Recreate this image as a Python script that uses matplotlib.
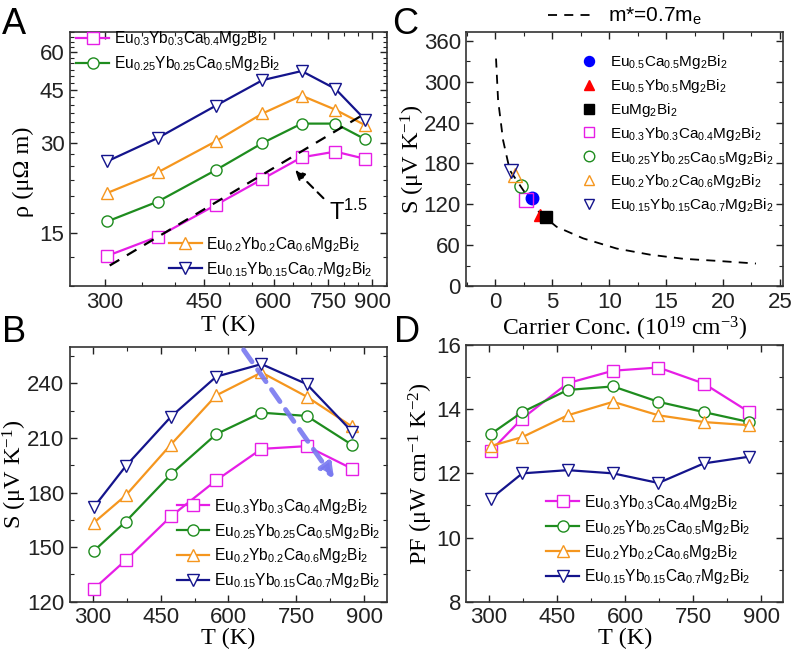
import numpy as np
import matplotlib.pyplot as plt
from matplotlib.ticker import FixedLocator, NullFormatter, MultipleLocator, FixedFormatter

plt.rcParams['font.family'] = 'Liberation Sans'
plt.rcParams['mathtext.default'] = 'regular'
plt.rcParams['xtick.direction'] = 'in'
plt.rcParams['ytick.direction'] = 'in'
plt.rcParams['xtick.top'] = True
plt.rcParams['ytick.right'] = True

# ---- data ----
T = [303, 373, 473, 573, 673, 773, 873]

names = [r'Eu$_{0.3}$Yb$_{0.3}$Ca$_{0.4}$Mg$_2$Bi$_2$',
         r'Eu$_{0.25}$Yb$_{0.25}$Ca$_{0.5}$Mg$_2$Bi$_2$',
         r'Eu$_{0.2}$Yb$_{0.2}$Ca$_{0.6}$Mg$_2$Bi$_2$',
         r'Eu$_{0.15}$Yb$_{0.15}$Ca$_{0.7}$Mg$_2$Bi$_2$']
colors = ['#e61ee6', '#1e8c1e', '#f5961e', '#14148c']
markers = ['s', 'o', '^', 'v']

# A: resistivity (uOhm m)
rho = [[12.6, 14.6, 18.6, 22.7, 26.8, 28.0, 26.5],
       [16.4, 19.1, 24.3, 29.9, 34.7, 34.7, 30.8],
       [20.4, 23.9, 30.3, 37.5, 43.0, 38.6, 34.3],
       [26.0, 31.1, 39.8, 48.4, 51.9, 45.3, 35.8]]
T_fit = [306, 880]
rho_fit = [11.7, 37.8]

# B: Seebeck (uV/K)
seebeck = [[127.1, 142.8, 166.9, 186.7, 204.0, 205.5, 193.1],
           [148.0, 164.0, 190.0, 212.1, 223.9, 222.1, 206.2],
           [163.5, 178.4, 206.4, 233.4, 246.0, 232.7, 216.3],
           [172.1, 194.5, 221.7, 243.7, 250.6, 239.6, 213.5]]

# C: Pisarenko plot
c_names = [r'Eu$_{0.5}$Ca$_{0.5}$Mg$_2$Bi$_2$',
           r'Eu$_{0.5}$Yb$_{0.5}$Mg$_2$Bi$_2$',
           r'EuMg$_2$Bi$_2$'] + names
c_colors = ['#0000ff', '#ff0000', '#000000'] + colors
c_markers = ['o', '^', 's'] + markers
c_filled = [True, True, True, False, False, False, False]
c_n = [3.22, 3.9, 4.4, 2.72, 2.28, 1.70, 1.35]
c_S = [128.8, 105, 101, 127, 147, 163, 169]
curve_n = [0.05, 0.23, 0.67, 1.26, 2.43, 3.9, 5.37, 7.7, 10.66, 13.6, 16.5, 19.4, 22.9]
curve_S = [334, 273, 214, 170, 141, 107, 87, 70, 55, 46, 40, 37, 33]

# D: power factor (uW cm-1 K-2)
pf = [[12.69, 13.71, 14.81, 15.20, 15.30, 14.80, 13.91],
      [13.22, 13.91, 14.60, 14.71, 14.23, 13.91, 13.60],
      [12.85, 13.13, 13.81, 14.23, 13.81, 13.60, 13.50],
      [11.20, 12.00, 12.10, 12.00, 11.70, 12.31, 12.52]]

serif = 'Liberation Serif'
lab_fs = 17.5
tick_fs = 16
leg_fs = 11.2

fig = plt.figure(figsize=(7.96, 6.53), dpi=100)
axA = fig.add_axes([0.088, 0.562, 0.398, 0.389])
axC = fig.add_axes([0.586, 0.562, 0.398, 0.389])
axB = fig.add_axes([0.088, 0.0786, 0.398, 0.390])
axD = fig.add_axes([0.586, 0.0786, 0.398, 0.393])


def style(ax):
    ax.tick_params(which='major', length=5, width=1, labelsize=tick_fs, colors='#222222', pad=4)
    ax.tick_params(which='minor', length=3, width=0.8, colors='#222222')
    for s in ax.spines.values():
        s.set_color('#333333')
        s.set_linewidth(1.2)


def series(ax, ydata, ms=8):
    lines = []
    for y, c, m, lab in zip(ydata, colors, markers, names):
        ln, = ax.plot(T, y, color=c, marker=m, mfc='white', mec=c, ms=ms,
                      lw=1.6, mew=1.0, label=lab)
        lines.append(ln)
    return lines


leg_kw = dict(frameon=False, fontsize=leg_fs, handlelength=2.1, borderaxespad=0.0,
              labelspacing=0.38, handletextpad=0.3)

# ---- A ----
lines = series(axA, rho)
axA.plot(T_fit, rho_fit, '--', color='black', lw=1.6, dashes=(5, 4))
axA.set_xscale('log')
axA.set_yscale('log')
axA.set_xlim(260, 955)
axA.set_ylim(10, 70)
axA.xaxis.set_major_locator(FixedLocator([300, 450, 600, 750, 900]))
axA.xaxis.set_major_formatter(FixedFormatter(['300', '450', '600', '750', '900']))
axA.xaxis.set_minor_locator(FixedLocator(np.arange(250, 960, 50)))
axA.xaxis.set_minor_formatter(NullFormatter())
axA.yaxis.set_major_locator(FixedLocator([15, 30, 45, 60]))
axA.yaxis.set_major_formatter(FixedFormatter(['15', '30', '45', '60']))
axA.yaxis.set_minor_locator(FixedLocator(np.arange(10, 71, 2.5)))
axA.yaxis.set_minor_formatter(NullFormatter())
style(axA)
axA.set_xlabel('T (K)', family=serif, fontsize=lab_fs, labelpad=2)
axA.set_ylabel(r'ρ (μΩ m)', family=serif, fontsize=lab_fs)
axA.yaxis.set_label_coords(-0.115, 0.45)
axA.annotate('', xy=(650, 24.7), xytext=(742, 19.3),
             arrowprops=dict(arrowstyle='-|>', color='black', lw=1.5, ls=(0, (4, 3)),
                             mutation_scale=14))
axA.text(815, 17.6, r'T$^{1.5}$', fontsize=17, ha='center', va='center')
legA1 = axA.legend(handles=lines[:2], loc='upper left', bbox_to_anchor=(0.0, 1.035), **leg_kw)
axA.add_artist(legA1)
axA.legend(handles=lines[2:], loc='lower right', bbox_to_anchor=(0.975, 0.005), **leg_kw)

# ---- B ----
lines = series(axB, seebeck)
axB.annotate('', xy=(837, 186.3), xytext=(630, 259.7),
             arrowprops=dict(arrowstyle='-|>', color='#7878f0', lw=3.5, ls=(0, (3, 2)),
                             mutation_scale=20, alpha=0.9))
axB.set_xlim(250, 950)
axB.set_ylim(120, 260)
axB.xaxis.set_major_locator(MultipleLocator(150))
axB.xaxis.set_minor_locator(MultipleLocator(75))
axB.yaxis.set_major_locator(MultipleLocator(30))
axB.yaxis.set_minor_locator(MultipleLocator(15))
style(axB)
axB.set_xlabel('T (K)', family=serif, fontsize=lab_fs, labelpad=0)
axB.set_ylabel(r'S (μV K$^{-1}$)', family=serif, fontsize=lab_fs)
axB.yaxis.set_label_coords(-0.128, 0.5)
axB.legend(loc='lower right', bbox_to_anchor=(1.0, 0.02), **leg_kw)

# ---- C ----
curve, = axC.plot(curve_n, curve_S, '--', color='black', lw=1.3, dashes=(5, 4),
                  label=r'm*=0.7m$_e$')
pts = []
for n, s, c, m, f, lab in zip(c_n, c_S, c_colors, c_markers, c_filled, c_names):
    p, = axC.plot([n], [s], ls='none', marker=m, ms=9 if f else 9.5,
                  mfc=c if f else 'none', mec=c, mew=1.0, label=lab)
    pts.append(p)
axC.set_xlim(-2.55, 25.3)
axC.set_ylim(0, 373)
axC.xaxis.set_major_locator(MultipleLocator(5))
axC.xaxis.set_minor_locator(MultipleLocator(2.5))
axC.yaxis.set_major_locator(MultipleLocator(60))
axC.yaxis.set_minor_locator(MultipleLocator(30))
style(axC)
axC.set_xlabel(r'Carrier Conc. (10$^{19}$ cm$^{-3}$)', family=serif, fontsize=17, labelpad=2)
axC.set_ylabel(r'S (μV K$^{-1}$)', family=serif, fontsize=lab_fs)
axC.yaxis.set_label_coords(-0.125, 0.5)
legC1 = axC.legend(handles=[curve], loc='lower center', bbox_to_anchor=(0.5, 0.985),
                   frameon=False, fontsize=15, handlelength=2.3, borderaxespad=0.0,
                   handletextpad=0.6)
axC.add_artist(legC1)
axC.legend(handles=pts, loc='upper left', bbox_to_anchor=(0.32, 0.94), frameon=False,
           fontsize=11, markerscale=0.8, handlelength=2.0, handletextpad=0.35,
           labelspacing=0.38, borderaxespad=0.0)

# ---- D ----
lines = series(axD, pf)
axD.set_xlim(250, 948)
axD.set_ylim(8, 16)
axD.xaxis.set_major_locator(MultipleLocator(150))
axD.xaxis.set_minor_locator(MultipleLocator(75))
axD.yaxis.set_major_locator(MultipleLocator(2))
axD.yaxis.set_minor_locator(MultipleLocator(1))
style(axD)
axD.set_xlabel('T (K)', family=serif, fontsize=lab_fs, labelpad=0)
axD.set_ylabel(r'PF (μW cm$^{-1}$ K$^{-2}$)', family=serif, fontsize=lab_fs)
axD.yaxis.set_label_coords(-0.1, 0.5)
axD.legend(loc='lower left', bbox_to_anchor=(0.232, 0.035), **leg_kw)

# panel letters
for lab, x, y in [('A', 0.003, 0.99), ('C', 0.492, 0.99), ('B', 0.003, 0.518), ('D', 0.495, 0.518)]:
    fig.text(x, y, lab, fontsize=26, ha='left', va='top')

fig.savefig('out.png', dpi=100)
